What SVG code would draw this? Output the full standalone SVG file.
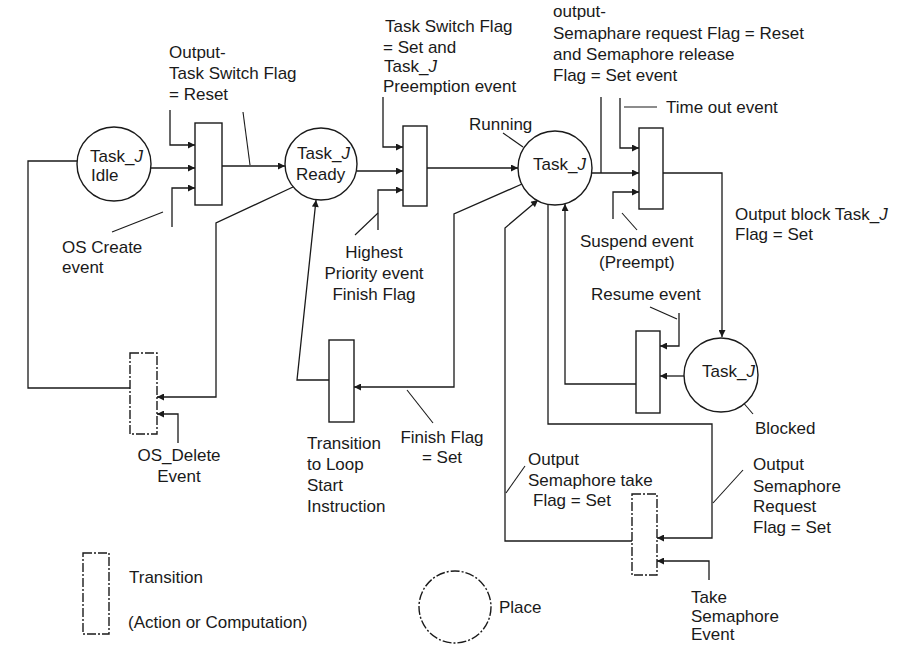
<svg xmlns="http://www.w3.org/2000/svg" width="904" height="646" viewBox="0 0 904 646">
<style>
  text { font-family: "Liberation Sans", Arial, sans-serif; font-size: 17px; fill: #1a1a1a; }
  .mid { text-anchor: middle; }
  .place { fill: #fff; stroke: #1a1a1a; stroke-width: 1.4; }
  .trans { fill: #fff; stroke: #1a1a1a; stroke-width: 1.4; }
  .faint { stroke-dasharray: 9 2 2 2; }
  .conn { fill: none; stroke: #1a1a1a; stroke-width: 1.3; }
  .arr { marker-end: url(#ah); }
  .leader { fill: none; stroke: #1a1a1a; stroke-width: 1.1; }
  .it { font-style: italic; }
</style>
<defs>
  <marker id="ah" viewBox="0 0 10 10" refX="10" refY="5" markerWidth="9" markerHeight="7" markerUnits="userSpaceOnUse" orient="auto">
    <path d="M0,0 L10,5 L0,10 z" fill="#1a1a1a"/>
  </marker>
</defs>
<rect width="904" height="646" fill="#fff"/>

<g id="connectors">
  <path class="conn" d="M77,161 H28 V388 H130"/>
  <path class="conn arr" d="M150,168 H195"/>
  <path class="conn arr" d="M170,110 V145 H195"/>
  <path class="conn arr" d="M172,227 V188 H195"/>
  <path class="conn arr" d="M222,166 H285"/>
  <path class="conn arr" d="M293,187 L216,223 V397 H157"/>
  <path class="conn arr" d="M178,443 V414 H157"/>
  <path class="conn arr" d="M357,171 H403"/>
  <path class="conn arr" d="M383,97 V147 H403"/>
  <path class="conn arr" d="M378,230 V190 H403"/>
  <path class="conn arr" d="M427,168 H518"/>
  <path class="conn arr" d="M522,184 L454,214 V387 H354"/>
  <path class="conn arr" d="M329,380 H297 L316,200"/>
  <path class="conn arr" d="M592,173 H639"/>
  <path class="conn" d="M601,97 V173"/>
  <path class="conn arr" d="M620,98 V148 H639"/>
  <path class="conn arr" d="M613,219 V192 H639"/>
  <path class="conn arr" d="M663,173 H722 V337"/>
  <path class="conn arr" d="M684,376 H660"/>
  <path class="conn arr" d="M679,313 V346 H660"/>
  <path class="conn arr" d="M636,384 H565 V204"/>
  <path class="conn arr" d="M548,205 V424 H712 V538 H657"/>
  <path class="conn arr" d="M632,541 H505 V228 L538,200"/>
  <path class="conn arr" d="M709,580 V561 H657"/>
  <path class="leader" d="M112,232 L163,212"/>
  <path class="leader" d="M243,112 L250,165"/>
  <path class="leader" d="M355,235 L378,213"/>
  <path class="leader" d="M503,133 L523,147"/>
  <path class="leader" d="M624,107 H657"/>
  <path class="leader" d="M637,230 L622,213"/>
  <path class="leader" d="M650,307 L677,319"/>
  <path class="leader" d="M735,393 L753,414"/>
  <path class="leader" d="M433,423 L407,390"/>
  <path class="leader" d="M525,466 L506,493"/>
  <path class="leader" d="M743,470 L713,503"/>
</g>

<g id="place-idle">
  <circle class="place" cx="114" cy="164" r="37"/>
  <text x="90" y="162">Task_<tspan class="it">J</tspan></text>
  <text x="91" y="181">Idle</text>
</g>
<g id="place-ready">
  <circle class="place" cx="321" cy="164" r="36"/>
  <text x="297" y="159">Task_<tspan class="it">J</tspan></text>
  <text x="296" y="180">Ready</text>
</g>
<g id="place-running">
  <circle class="place" cx="555" cy="168" r="37"/>
  <text x="533" y="170">Task_<tspan class="it">J</tspan></text>
</g>
<g id="place-blocked">
  <circle class="place" cx="721" cy="375" r="37"/>
  <text x="702" y="377">Task_<tspan class="it">J</tspan></text>
</g>

<g id="t-create"><rect class="trans" x="195" y="123" width="27" height="82"/></g>
<g id="t-preempt"><rect class="trans" x="403" y="126" width="24" height="80"/></g>
<g id="t-block"><rect class="trans" x="639" y="128" width="24" height="81"/></g>
<g id="t-resume"><rect class="trans" x="636" y="331" width="24" height="82"/></g>
<g id="t-loop"><rect class="trans" x="329" y="340" width="25" height="82"/></g>
<g id="t-delete"><rect class="trans faint" x="130" y="353" width="27" height="81"/></g>
<g id="t-semaphore"><rect class="trans faint" x="632" y="494" width="25" height="81"/></g>

<g id="labels">
  <text x="169" y="58">Output-</text>
  <text x="169" y="79">Task Switch Flag</text>
  <text x="169" y="100">= Reset</text>

  <text x="385" y="32">Task Switch Flag</text>
  <text x="383" y="52.5">= Set and</text>
  <text x="384" y="72">Task_<tspan class="it">J</tspan></text>
  <text x="383" y="92">Preemption event</text>

  <text x="553" y="17">output-</text>
  <text x="553" y="38.5">Semaphare request Flag = Reset</text>
  <text x="553" y="60">and Semaphore release</text>
  <text x="553" y="81">Flag = Set event</text>

  <text x="666" y="113">Time out event</text>
  <text x="469" y="130">Running</text>

  <text x="735" y="220">Output block Task_<tspan class="it">J</tspan></text>
  <text x="735" y="240">Flag = Set</text>

  <text x="580" y="247">Suspend event</text>
  <text x="599" y="268">(Preempt)</text>
  <text x="591" y="300">Resume event</text>
  <text x="755" y="434">Blocked</text>

  <text class="mid" x="374" y="258">Highest</text>
  <text class="mid" x="374" y="279">Priority event</text>
  <text class="mid" x="374" y="300">Finish Flag</text>

  <text x="62" y="253">OS Create</text>
  <text x="62" y="273">event</text>

  <text class="mid" x="179" y="461">OS_Delete</text>
  <text class="mid" x="179" y="482">Event</text>

  <text x="307" y="449">Transition</text>
  <text x="307" y="470">to Loop</text>
  <text x="307" y="491">Start</text>
  <text x="307" y="512">Instruction</text>

  <text class="mid" x="442" y="443">Finish Flag</text>
  <text class="mid" x="442" y="463">= Set</text>

  <text x="528" y="465">Output</text>
  <text x="528" y="486">Semaphore take</text>
  <text x="533" y="506">Flag = Set</text>

  <text x="753" y="470">Output</text>
  <text x="753" y="492">Semaphore</text>
  <text x="753" y="512">Request</text>
  <text x="753" y="533">Flag = Set</text>

  <text x="691" y="603">Take</text>
  <text x="691" y="622">Semaphore</text>
  <text x="691" y="640">Event</text>
</g>

<g id="legend">
  <g id="legend-transition">
    <rect class="trans faint" x="83" y="553" width="26" height="81"/>
    <text x="129" y="583">Transition</text>
    <text x="128" y="628">(Action or Computation)</text>
  </g>
  <g id="legend-place">
    <circle class="place faint" cx="455" cy="607" r="36"/>
    <text x="499" y="613">Place</text>
  </g>
</g>
</svg>
